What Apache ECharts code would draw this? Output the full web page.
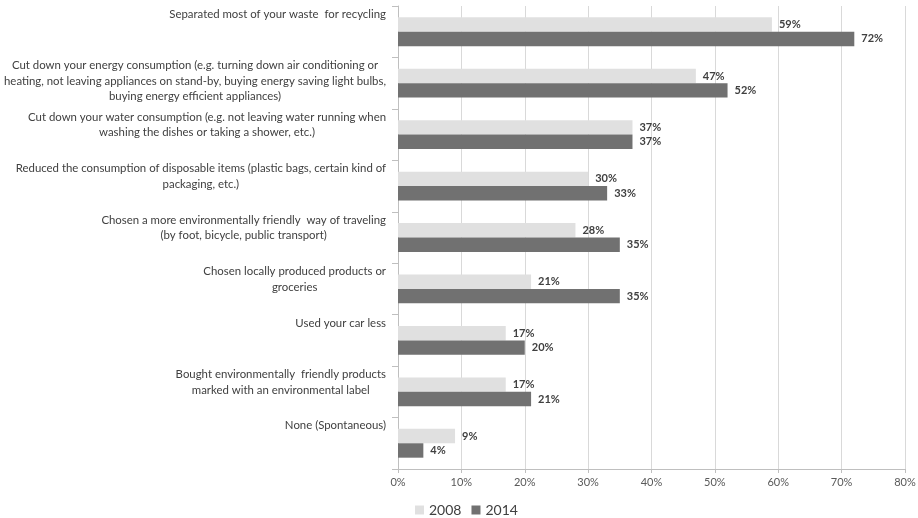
<!DOCTYPE html>
<html>
<head>
<meta charset="utf-8">
<script src="https://cdn.jsdelivr.net/npm/echarts@6/dist/echarts.min.js"></script>
<style>
  html, body { margin: 0; padding: 0; background: #fff; }
  #chart { width: 918px; height: 518px; }
</style>
</head>
<body>
<div id="chart"></div>
<script>
// Actions taken, each label pre-broken into its display lines
const categories = [
  ['Separated most of your waste  for recycling'],
  ['Cut down your energy consumption (e.g. turning down air conditioning or',
   'heating, not leaving appliances on stand-by, buying energy saving light bulbs,',
   'buying energy efficient appliances)'],
  ['Cut down your water consumption (e.g. not leaving water running when',
   'washing the dishes or taking a shower, etc.)'],
  ['Reduced the consumption of disposable items (plastic bags, certain kind of',
   'packaging, etc.)'],
  ['Chosen a more environmentally friendly  way of traveling',
   '(by foot, bicycle, public transport)'],
  ['Chosen locally produced products or',
   'groceries'],
  ['Used your car less'],
  ['Bought environmentally  friendly products',
   'marked with an environmental label'],
  ['None (Spontaneous)']
];
const values2008 = [59, 47, 37, 30, 28, 21, 17, 17, 9];
const values2014 = [72, 52, 37, 33, 35, 35, 20, 21, 4];
const xTicks = [0, 10, 20, 30, 40, 50, 60, 70, 80];

const FONT = 'Lato';
const LINE_H = 15.5;

const chart = echarts.init(document.getElementById('chart'), null, { renderer: 'canvas' });

// Spacer heights so every label block has the same total height,
// which puts the first line at the top of its category band.
const BAND = 51.5;
const rich = {
  t: { fontFamily: FONT, fontSize: 11.4, color: '#404040', lineHeight: LINE_H, align: 'center' }
};
[1, 2, 3].forEach(n => {
  const h = BAND - n * LINE_H - 1;
  rich['g' + n] = { height: h, lineHeight: h, fontSize: 1 };
});

const valueLabel = {
  show: true,
  position: 'right',
  distance: 7,
  fontFamily: FONT,
  fontSize: 11,
  fontWeight: 'bold',
  color: '#404040',
  formatter: p => p.value + '%'
};

chart.setOption({
  animation: false,
  backgroundColor: '#ffffff',
  grid: { left: 398, right: 13, top: 6, bottom: 49, containLabel: false, outerBoundsMode: 'none' },
  legend: {
    data: ['2008', '2014'],
    left: 415,
    top: 503,
    padding: 0,
    itemWidth: 9,
    itemHeight: 9,
    itemGap: 10,
    icon: 'rect',
    textStyle: { fontFamily: FONT, fontSize: 14, color: '#404040' }
  },
  xAxis: {
    type: 'value',
    min: xTicks[0],
    max: xTicks[xTicks.length - 1],
    interval: xTicks[1] - xTicks[0],
    axisLine: { show: true, lineStyle: { color: '#bfbfbf', width: 1 } },
    axisTick: { show: true, length: 4, lineStyle: { color: '#bfbfbf' } },
    splitLine: { show: true, lineStyle: { color: '#d9d9d9', width: 1 } },
    axisLabel: {
      margin: 8,
      fontFamily: FONT,
      fontSize: 11,
      color: '#595959',
      formatter: v => v + '%'
    }
  },
  yAxis: {
    type: 'category',
    inverse: true,
    data: categories.map(c => c.join('\n')),
    axisLine: { show: true, lineStyle: { color: '#bfbfbf', width: 1 } },
    axisTick: { show: true, length: 6, lineStyle: { color: '#bfbfbf' } },
    splitLine: { show: false },
    axisLabel: {
      margin: 12,
      interval: 0,
      align: 'right',
      verticalAlign: 'middle',
      rich: rich,
      formatter: (val) => {
        const lines = val.split('\n');
        return lines.map(l => '{t|' + l + '}').join('\n') + '\n{g' + lines.length + '| }';
      }
    }
  },
  series: [
    {
      name: '2008',
      type: 'bar',
      data: values2008,
      barGap: '0%',
      barCategoryGap: '44%',
      itemStyle: { color: '#e0e0e0' },
      label: valueLabel
    },
    {
      name: '2014',
      type: 'bar',
      data: values2014,
      barGap: '0%',
      barCategoryGap: '44%',
      itemStyle: { color: '#717171' },
      label: valueLabel
    }
  ]
});
</script>
</body>
</html>
